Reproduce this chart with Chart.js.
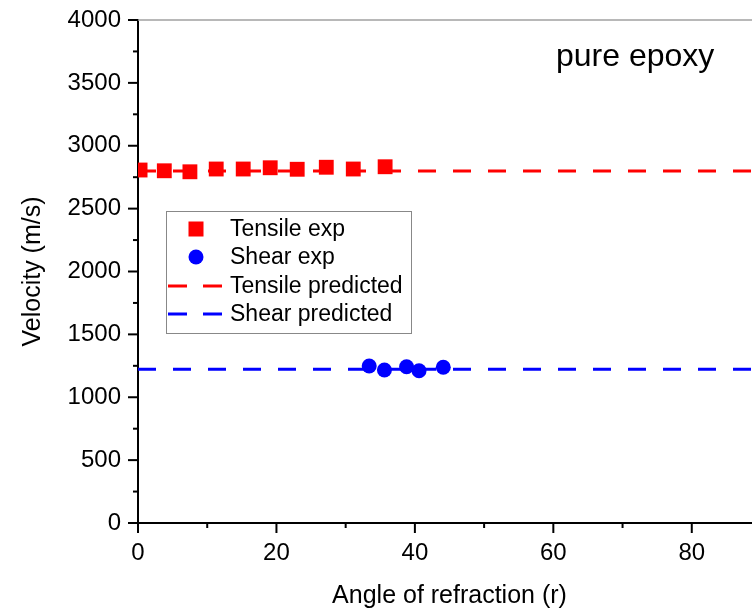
<!DOCTYPE html>
<html>
<head>
<meta charset="utf-8">
<script src="https://cdn.jsdelivr.net/npm/chart.js@4/dist/chart.umd.min.js"></script>
<style>
  html, body { margin: 0; padding: 0; background: #fff; overflow: hidden; width: 752px; height: 612px; }
  canvas { display: block; }
</style>
</head>
<body>
<canvas id="velChart" width="790" height="612"></canvas>
<script>
// data
const tensileAngle = [0.3, 3.8, 7.5, 11.3, 15.2, 19.1, 23.0, 27.2, 31.1, 35.7];
const tensileVel = [2807, 2801, 2793, 2815, 2815, 2825, 2813, 2829, 2815, 2833];
const shearAngle = [33.4, 35.6, 38.8, 40.6, 44.1];
const shearVel = [1248, 1217, 1243, 1211, 1238];
const predictedAngle = [0, 90];
const tensilePredicted = [2800, 2800];
const shearPredicted = [1222, 1222];
const xMajorTicks = [0, 20, 40, 60, 80];
const yMajorTicks = [0, 500, 1000, 1500, 2000, 2500, 3000, 3500, 4000];

const FONT = "'Liberation Sans', Arial, sans-serif";

function toPoints(xs, ys) {
  return xs.map(function(x, i) { return { x: x, y: ys[i] }; });
}

// tick marks (major long, minor short), top frame line, label, legend
const decorPlugin = {
  id: "decor",
  afterDraw: function(chart) {
    const ctx = chart.ctx;
    const area = chart.chartArea;
    const xs = chart.scales.x;
    const ys = chart.scales.y;
    ctx.save();

    // top frame
    ctx.strokeStyle = "#a0a0a0";
    ctx.lineWidth = 1.5;
    ctx.beginPath();
    ctx.moveTo(area.left, area.top);
    ctx.lineTo(chart.width, area.top);
    ctx.stroke();

    ctx.strokeStyle = "#000";
    ctx.lineWidth = 2;
    ys.ticks.forEach(function(t) {
      const py = ys.getPixelForValue(t.value);
      const len = yMajorTicks.includes(t.value) ? 10 : 5;
      ctx.beginPath();
      ctx.moveTo(area.left - len, py);
      ctx.lineTo(area.left, py);
      ctx.stroke();
    });
    xs.ticks.forEach(function(t) {
      const px = xs.getPixelForValue(t.value);
      const len = xMajorTicks.includes(t.value) ? 10 : 5;
      ctx.beginPath();
      ctx.moveTo(px, area.bottom);
      ctx.lineTo(px, area.bottom + len);
      ctx.stroke();
    });

    // annotation
    ctx.fillStyle = "#000";
    ctx.font = "32px " + FONT;
    ctx.textBaseline = "alphabetic";
    ctx.textAlign = "left";
    ctx.fillText("pure epoxy", 556, 66);

    // legend box
    const bx = 166, by = 211, bw = 245, bh = 122;
    ctx.fillStyle = "#fff";
    ctx.fillRect(bx, by, bw, bh);
    ctx.strokeStyle = "#888";
    ctx.lineWidth = 1;
    ctx.strokeRect(bx + 0.5, by + 0.5, bw, bh);

    const rows = [229, 257, 286, 314];
    const ds = chart.data.datasets;
    ctx.font = "23px " + FONT;
    ctx.textBaseline = "middle";
    ds.forEach(function(d, i) {
      const cy = rows[i];
      ctx.fillStyle = d.backgroundColor;
      ctx.strokeStyle = d.borderColor;
      if (d.pointStyle === "rect") {
        ctx.fillRect(196 - 7.5, cy - 7.5, 15, 15);
      } else if (d.pointStyle === "circle") {
        ctx.beginPath();
        ctx.arc(196, cy, 7.5, 0, Math.PI * 2);
        ctx.fill();
      } else {
        ctx.lineWidth = 3;
        ctx.beginPath();
        ctx.moveTo(168, cy);
        ctx.lineTo(187, cy);
        ctx.moveTo(203, cy);
        ctx.lineTo(222, cy);
        ctx.stroke();
      }
      ctx.fillStyle = "#000";
      ctx.fillText(d.label, 230, cy + 1);
    });
    ctx.restore();
  }
};

const ctxVel = document.getElementById("velChart").getContext("2d");
new Chart(ctxVel, {
  type: "scatter",
  data: {
    datasets: [{
      label: "Tensile exp",
      data: toPoints(tensileAngle, tensileVel),
      pointStyle: "rect",
      pointRadius: 10.5,
      pointBorderWidth: 0,
      backgroundColor: "#ff0000",
      borderColor: "#ff0000",
      order: 1
    }, {
      label: "Shear exp",
      data: toPoints(shearAngle, shearVel),
      pointStyle: "circle",
      pointRadius: 7.5,
      pointBorderWidth: 0,
      backgroundColor: "#0000ff",
      borderColor: "#0000ff",
      order: 1
    }, {
      label: "Tensile predicted",
      data: toPoints(predictedAngle, tensilePredicted),
      showLine: true,
      pointRadius: 0,
      borderColor: "#ff0000",
      backgroundColor: "#ff0000",
      borderWidth: 3,
      borderDash: [18, 17],
      order: 2
    }, {
      label: "Shear predicted",
      data: toPoints(predictedAngle, shearPredicted),
      showLine: true,
      pointRadius: 0,
      borderColor: "#0000ff",
      backgroundColor: "#0000ff",
      borderWidth: 3,
      borderDash: [18, 17],
      order: 2
    }]
  },
  options: {
    responsive: false,
    animation: false,
    devicePixelRatio: 1,
    layout: { padding: { left: 0, right: 29, top: 20, bottom: 0 } },
    plugins: {
      legend: { display: false },
      tooltip: { enabled: false }
    },
    scales: {
      x: {
        type: "linear",
        min: 0,
        max: 90,
        afterFit: function(scale) {
          scale.height = 89;
          scale.paddingLeft = 0;
          scale.paddingRight = 0;
        },
        grid: { display: false, drawTicks: false },
        border: { display: true, color: "#000", width: 2 },
        ticks: {
          stepSize: 10,
          padding: 16,
          color: "#000",
          font: { family: FONT, size: 24 },
          maxRotation: 0,
          autoSkip: false,
          callback: function(v) { return xMajorTicks.includes(v) ? String(v) : ""; }
        },
        title: {
          display: true,
          text: "Angle of refraction (r)",
          color: "#000",
          font: { family: FONT, size: 25 },
          padding: { top: 0, bottom: 1 }
        }
      },
      y: {
        type: "linear",
        min: 0,
        max: 4000,
        afterFit: function(scale) {
          scale.width = 138;
          scale.paddingTop = 0;
          scale.paddingBottom = 0;
        },
        grid: { display: false, drawTicks: false },
        border: { display: true, color: "#000", width: 2 },
        ticks: {
          stepSize: 250,
          padding: 17,
          color: "#000",
          font: { family: FONT, size: 24 },
          autoSkip: false,
          callback: function(v) { return yMajorTicks.includes(v) ? String(v) : ""; }
        },
        title: {
          display: true,
          text: "Velocity (m/s)",
          color: "#000",
          font: { family: FONT, size: 25 },
          padding: { top: 18, bottom: 0 }
        }
      }
    }
  },
  plugins: [decorPlugin]
});
</script>
</body>
</html>
